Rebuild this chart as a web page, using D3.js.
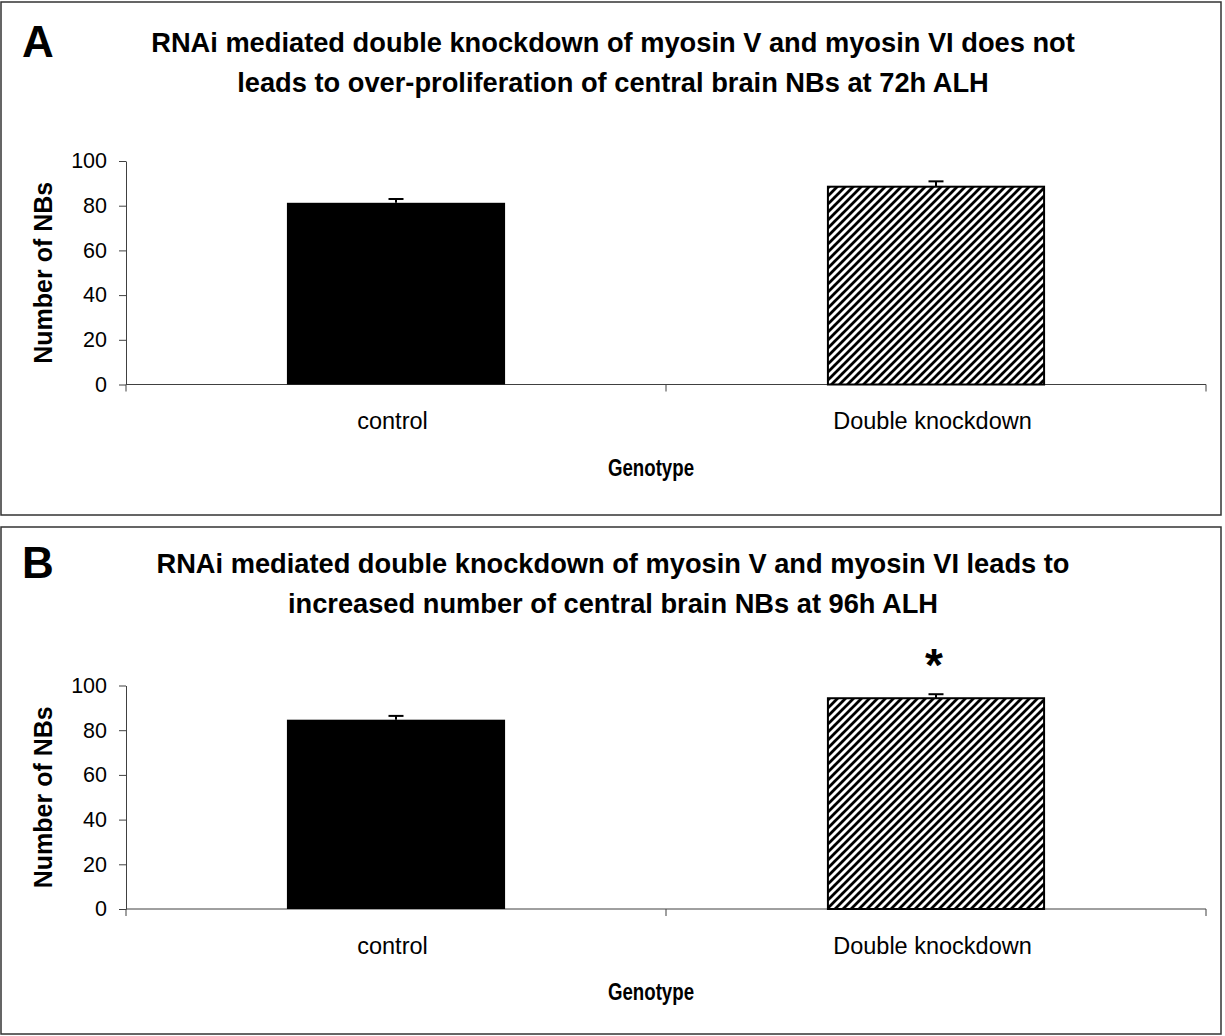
<!DOCTYPE html>
<html><head><meta charset="utf-8">
<script src="https://cdn.jsdelivr.net/npm/d3@7"></script>
<style>body{margin:0;background:#fff}svg{display:block}text{font-family:"Liberation Sans",Arial,sans-serif}</style>
</head><body>
<script>
const categories = ["control", "Double knockdown"];
const yTicks = [0, 20, 40, 60, 80, 100];
const valuesA = [81.3, 88.5];
const errorsA = [1.7, 2.4];
const valuesB = [84.7, 94.3];
const errorsB = [1.7, 1.8];
const marksA = ["", ""];
const marksB = ["", "*"];
const titleA = ["RNAi mediated double knockdown of myosin V and myosin VI does not",
                "leads to over-proliferation of central brain NBs at 72h ALH"];
const titleB = ["RNAi mediated double knockdown of myosin V and myosin VI leads to",
                "increased number of central brain NBs at 96h ALH"];
const letters = ["A", "B"];
const xTitle = "Genotype";
const yTitle = "Number of NBs";

const W = 1225, H = 1036;
const svg = d3.select("body").append("svg").attr("width", W).attr("height", H);
const defs = svg.append("defs");
const pat = defs.append("pattern").attr("id", "hatch").attr("patternUnits", "userSpaceOnUse")
  .attr("width", 8).attr("height", 8);
pat.append("rect").attr("width", 8).attr("height", 8).attr("fill", "#fff");
pat.append("path").attr("d", "M-2,2 L2,-2 M0,8 L8,0 M6,10 L10,6")
  .attr("stroke", "#000").attr("stroke-width", 2.8);

const panels = [
  {top: 2, h: 513, dy: 0, tdy: 0, letter: letters[0], title: titleA, values: valuesA, errors: errorsA, marks: marksA},
  {top: 527, h: 507, dy: 524.5, tdy: 521, letter: letters[1], title: titleB, values: valuesB, errors: errorsB, marks: marksB}
];

const x = d3.scaleBand().domain(categories).range([126, 1206]).padding(0);
const barFrac = 0.404;

panels.forEach((p, pi) => {
  const g = svg.append("g");
  g.append("rect").attr("x", 1).attr("y", p.top).attr("width", 1220).attr("height", p.h)
    .attr("fill", "none").attr("stroke", "#333").attr("stroke-width", 1.5);
  g.append("text").attr("x", 22).attr("y", 57 + p.tdy).attr("font-size", 44).attr("font-weight", "bold")
    .text(p.letter);
  p.title.forEach((t, i) => {
    g.append("text").attr("x", 613).attr("y", 52 + p.tdy + i * 39.5).attr("text-anchor", "middle")
      .attr("font-size", 27.25).attr("font-weight", "bold").text(t);
  });
  const y = d3.scaleLinear().domain([0, 100]).range([384.5 + p.dy, 161 + p.dy]);
  const ya = g.append("g").attr("transform", "translate(126,0)")
    .call(d3.axisLeft(y).tickValues(yTicks).tickSize(7).tickSizeOuter(0).tickPadding(12));
  ya.select(".domain").attr("stroke", "#404040");
  ya.selectAll(".tick line").attr("stroke", "#404040");
  ya.selectAll(".tick text").attr("font-size", 21.5).attr("font-family", "Liberation Sans, Arial").attr("fill", "#000");
  const y0 = y(0);
  const bounds = categories.map(c => x(c)).concat([x.range()[1]]);
  g.append("line").attr("x1", 126).attr("x2", 1206).attr("y1", y0).attr("y2", y0)
    .attr("stroke", "#404040").attr("stroke-width", 1);
  g.selectAll(".xt").data(bounds).join("line").attr("x1", d => d).attr("x2", d => d)
    .attr("y1", y0).attr("y2", y0 + 7).attr("stroke", "#404040");
  g.selectAll(".xl").data(categories).join("text")
    .attr("x", d => x(d) + x.bandwidth() / 2 - 3.5).attr("y", y0 + 44.5)
    .attr("text-anchor", "middle").attr("font-size", 23.5).text(d => d);
  const bw = x.bandwidth() * barFrac;
  categories.forEach((c, i) => {
    const cx = x(c) + x.bandwidth() / 2;
    const v = p.values[i];
    if (i === 0) {
      g.append("rect").attr("x", cx - bw / 2).attr("y", y(v)).attr("width", bw).attr("height", y0 - y(v))
        .attr("fill", "#000");
    } else {
      g.append("rect").attr("x", cx - bw / 2 + 1).attr("y", y(v)).attr("width", bw - 2).attr("height", y0 - y(v))
        .attr("fill", "url(#hatch)").attr("stroke", "#000").attr("stroke-width", 2);
    }
    const e = p.errors[i];
    g.append("line").attr("x1", cx).attr("x2", cx).attr("y1", y(v)).attr("y2", y(v + e))
      .attr("stroke", "#000").attr("stroke-width", 2);
    g.append("line").attr("x1", cx - 7.5).attr("x2", cx + 7.5).attr("y1", y(v + e)).attr("y2", y(v + e))
      .attr("stroke", "#000").attr("stroke-width", 2);
    if (p.marks[i]) {
      g.append("text").attr("x", cx - 2).attr("y", y(v + e) - 13).attr("text-anchor", "middle")
        .attr("font-size", 46).attr("font-weight", "bold").text(p.marks[i]);
    }
  });
  g.append("text").attr("x", 608).attr("y", y0 + 91).attr("text-anchor", "start")
    .attr("font-size", 24).attr("font-weight", "bold")
    .attr("textLength", 86).attr("lengthAdjust", "spacingAndGlyphs").text(xTitle);
  const yc = (y(0) + y(100)) / 2;
  g.append("text").attr("transform", `translate(52,${yc}) rotate(-90)`).attr("text-anchor", "middle")
    .attr("font-size", 25).attr("font-weight", "bold").text(yTitle);
});
</script>
</body></html>
